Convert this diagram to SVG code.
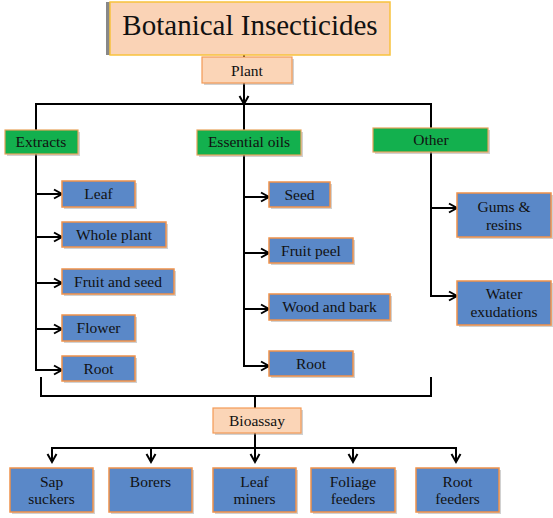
<svg xmlns="http://www.w3.org/2000/svg" width="553" height="518" viewBox="0 0 553 518" font-family="Liberation Serif, Times New Roman, serif">
<style>
text{font-family:'Liberation Serif',serif;fill:#111;text-anchor:middle}
.t{font-size:15.5px}
.peach{fill:#FBD5B7;stroke:#F39A55;stroke-width:1.2}
.green{fill:#13B04E;stroke:#E8A35A;stroke-width:1.2}
.blue{fill:#5A88C8;stroke:#F0914A;stroke-width:1.5}
.sh{fill:#9a9a9a;opacity:0.45}
.ln{stroke:#000;stroke-width:2;fill:none}
.ar{stroke:#000;stroke-width:2;fill:none;marker-end:url(#ah)}
</style>
<defs>
<marker id="ah" markerUnits="userSpaceOnUse" markerWidth="12" markerHeight="12" refX="9" refY="6" orient="auto">
<path d="M1,1.5 L9,6 L1,10.5" fill="none" stroke="#000" stroke-width="2"/>
</marker>
</defs>
<rect width="553" height="518" fill="#fff"/>

<g id="connectors">
<line class="ln" x1="244" y1="55" x2="244" y2="57"/>
<line class="ar" x1="244" y1="83" x2="244" y2="104"/>
<polyline class="ln" points="36,130 36,104 431,104 431,128"/>
<line class="ln" x1="244" y1="104" x2="244" y2="130"/>
<polyline class="ln" points="36,154 36,370"/>
<line class="ar" x1="36" y1="194" x2="62" y2="194"/>
<line class="ar" x1="36" y1="237" x2="62" y2="237"/>
<line class="ar" x1="36" y1="283" x2="62" y2="283"/>
<line class="ar" x1="36" y1="329" x2="62" y2="329"/>
<line class="ar" x1="35" y1="370" x2="62" y2="370"/>
<polyline class="ln" points="244,155 244,366"/>
<line class="ar" x1="244" y1="197" x2="269" y2="197"/>
<line class="ar" x1="244" y1="253" x2="269" y2="253"/>
<line class="ar" x1="244" y1="309" x2="269" y2="309"/>
<line class="ar" x1="243" y1="366" x2="269" y2="366"/>
<polyline class="ln" points="431,152 431,296"/>
<line class="ar" x1="431" y1="208" x2="457" y2="208"/>
<line class="ar" x1="430" y1="296" x2="457" y2="296"/>
<polyline class="ln" points="41,377 41,396 431,396 431,377"/>
<line class="ln" x1="255" y1="396" x2="255" y2="408"/>
<line class="ar" x1="255" y1="433" x2="255" y2="462"/>
<line class="ln" x1="51" y1="448" x2="457" y2="448"/>
<line class="ar" x1="52" y1="447" x2="52" y2="462"/>
<line class="ar" x1="151" y1="447" x2="151" y2="462"/>
<line class="ar" x1="353" y1="447" x2="353" y2="462"/>
<line class="ar" x1="456" y1="447" x2="456" y2="462"/>
</g>

<g id="title">
<rect x="106" y="2" width="6" height="53" fill="#888"/>
<rect x="110" y="2" width="280" height="53" fill="#FAD3B6" stroke="#F8C23C" stroke-width="1.5"/>
<text x="250" y="35" style="font-size:29px">Botanical Insecticides</text>
</g>

<g id="plant">
<rect class="sh" x="204" y="59" width="90" height="26"/>
<rect class="peach" x="202" y="57" width="90" height="26"/>
<text class="t" x="247" y="76">Plant</text>
</g>

<g id="extracts">
<rect class="sh" x="7" y="132" width="73" height="24"/>
<rect class="green" x="5" y="130" width="73" height="24"/>
<text class="t" x="41" y="147">Extracts</text>
</g>
<g id="essential-oils">
<rect class="sh" x="199" y="132" width="104" height="25"/>
<rect class="green" x="197" y="130" width="104" height="25"/>
<text class="t" x="249" y="147">Essential oils</text>
</g>
<g id="other">
<rect class="sh" x="375" y="130" width="115" height="24"/>
<rect class="green" x="373" y="128" width="115" height="24"/>
<text class="t" x="431" y="145">Other</text>
</g>

<g id="leaf">
<rect class="sh" x="64" y="183" width="73" height="26"/>
<rect class="blue" x="62" y="181" width="73" height="26"/>
<text class="t" x="98.5" y="199">Leaf</text>
</g>
<g id="whole-plant">
<rect class="sh" x="64" y="224" width="104" height="25"/>
<rect class="blue" x="62" y="222" width="104" height="25"/>
<text class="t" x="114" y="240">Whole plant</text>
</g>
<g id="fruit-and-seed">
<rect class="sh" x="64" y="271" width="112" height="25"/>
<rect class="blue" x="62" y="269" width="112" height="25"/>
<text class="t" x="118" y="287">Fruit and seed</text>
</g>
<g id="flower">
<rect class="sh" x="64" y="317" width="73" height="26"/>
<rect class="blue" x="62" y="315" width="73" height="26"/>
<text class="t" x="98.5" y="333">Flower</text>
</g>
<g id="root-extracts">
<rect class="sh" x="64" y="358" width="73" height="25"/>
<rect class="blue" x="62" y="356" width="73" height="25"/>
<text class="t" x="98.5" y="374">Root</text>
</g>

<g id="seed">
<rect class="sh" x="271" y="184" width="61" height="25"/>
<rect class="blue" x="269" y="182" width="61" height="25"/>
<text class="t" x="299.5" y="200">Seed</text>
</g>
<g id="fruit-peel">
<rect class="sh" x="271" y="240" width="84" height="25"/>
<rect class="blue" x="269" y="238" width="84" height="25"/>
<text class="t" x="311" y="256">Fruit peel</text>
</g>
<g id="wood-and-bark">
<rect class="sh" x="271" y="296" width="121" height="26"/>
<rect class="blue" x="269" y="294" width="121" height="26"/>
<text class="t" x="329.5" y="312">Wood and bark</text>
</g>
<g id="root-oils">
<rect class="sh" x="271" y="353" width="84" height="25"/>
<rect class="blue" x="269" y="351" width="84" height="25"/>
<text class="t" x="311" y="369">Root</text>
</g>

<g id="gums-resins">
<rect class="sh" x="459" y="195" width="94" height="44"/>
<rect class="blue" x="457" y="193" width="94" height="44"/>
<text class="t" x="504" y="212">Gums &amp;</text>
<text class="t" x="504" y="230">resins</text>
</g>
<g id="water-exudations">
<rect class="sh" x="459" y="283" width="94" height="44"/>
<rect class="blue" x="457" y="281" width="94" height="44"/>
<text class="t" x="504" y="299">Water</text>
<text class="t" x="504" y="317">exudations</text>
</g>

<g id="bioassay">
<rect class="sh" x="215" y="410" width="88" height="25"/>
<rect class="peach" x="213" y="408" width="88" height="25"/>
<text class="t" x="257" y="426">Bioassay</text>
</g>

<g id="sap-suckers">
<rect class="sh" x="12" y="470" width="83" height="44"/>
<rect class="blue" x="10" y="468" width="83" height="44"/>
<text class="t" x="51.5" y="487">Sap</text>
<text class="t" x="51.5" y="504">suckers</text>
</g>
<g id="borers">
<rect class="sh" x="111" y="470" width="83" height="44"/>
<rect class="blue" x="109" y="468" width="83" height="44"/>
<text class="t" x="150.5" y="487">Borers</text>
</g>
<g id="leaf-miners">
<rect class="sh" x="215" y="470" width="83" height="44"/>
<rect class="blue" x="213" y="468" width="83" height="44"/>
<text class="t" x="254.5" y="487">Leaf</text>
<text class="t" x="254.5" y="504">miners</text>
</g>
<g id="foliage-feeders">
<rect class="sh" x="313" y="470" width="84" height="44"/>
<rect class="blue" x="311" y="468" width="84" height="44"/>
<text class="t" x="353" y="487">Foliage</text>
<text class="t" x="353" y="504">feeders</text>
</g>
<g id="root-feeders">
<rect class="sh" x="418" y="470" width="83" height="44"/>
<rect class="blue" x="416" y="468" width="83" height="44"/>
<text class="t" x="457.5" y="487">Root</text>
<text class="t" x="457.5" y="504">feeders</text>
</g>
</svg>
